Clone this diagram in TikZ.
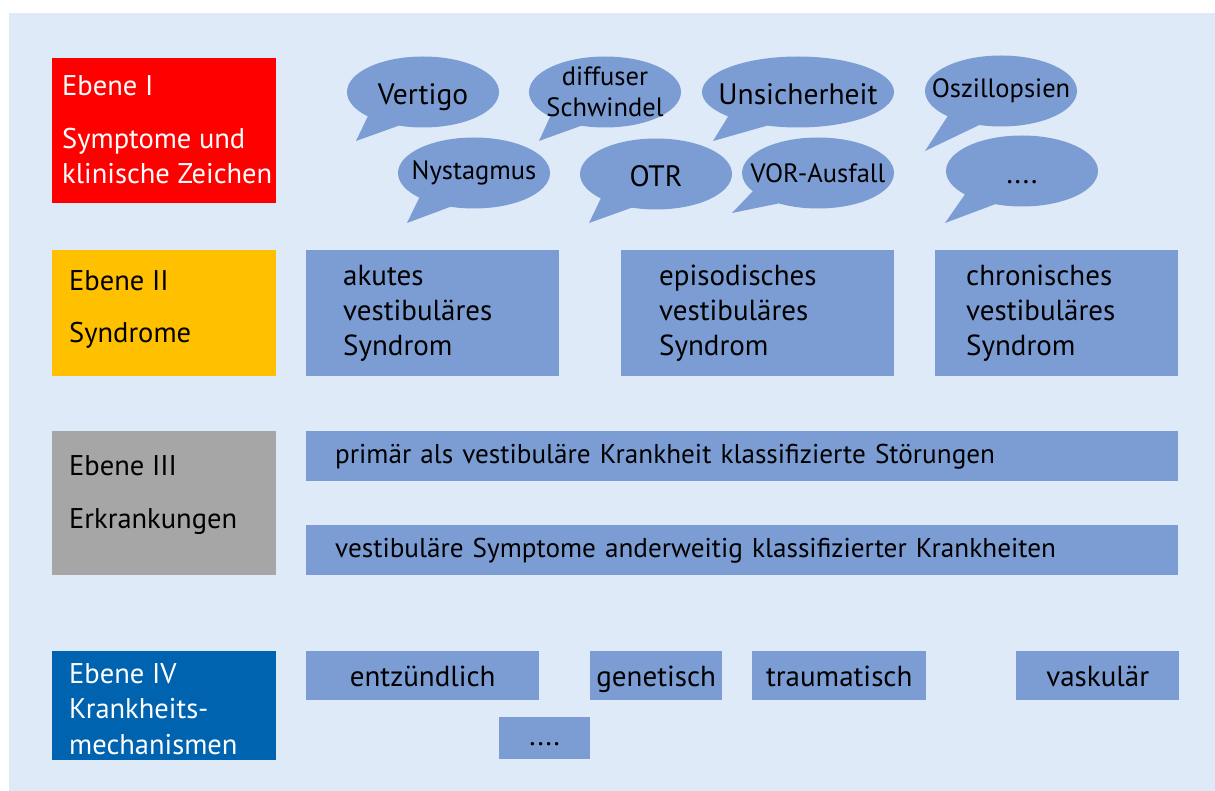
\documentclass[tikz,border=0pt]{standalone}
\usepackage{fontspec}
\setmainfont{PT Sans}
\usepackage{tikz}
\usetikzlibrary{shapes.callouts,positioning}
\definecolor{pagebg}{HTML}{DEEAF7}
\definecolor{itemblue}{HTML}{7B9DD4}
\definecolor{levelred}{HTML}{FF0000}
\definecolor{levelyellow}{HTML}{FFC000}
\definecolor{levelgray}{HTML}{A6A6A6}
\definecolor{levelblue}{HTML}{0063AF}
\tikzset{
  levelbox/.style={anchor=north west, inner sep=0pt, minimum width=224pt},
  leveltext/.style={anchor=west, align=left, inner sep=0pt, font=\fontsize{28.5}{35.5}\selectfont},
  bubble/.style={ellipse callout, fill=itemblue, callout pointer arc=28, minimum width=152pt, minimum height=71pt, inner sep=-24pt, align=center, font=\fontsize{26.5}{31}\selectfont},
  bigbubble/.style={bubble, text height=25pt, text depth=0pt, font=\fontsize{29.5}{31}\selectfont},
  itembox/.style={anchor=north west, fill=itemblue, inner sep=0pt, font=\fontsize{29}{35}\selectfont},
  synbox/.style={itembox, minimum height=126pt, align=left},
  barbox/.style={itembox, minimum height=50pt, minimum width=872pt, text width=814pt, inner xsep=29pt, align=left, font=\fontsize{27.2}{30}\selectfont},
  mechbox/.style={itembox, minimum height=49pt, text height=29pt, text depth=7pt}
}

\begin{document}
\begin{tikzpicture}[x=1pt, y=-1pt]
  \useasboundingbox (0,0) rectangle (1215,791);
  \fill[pagebg] (9,13) rectangle (1215,791);

  \node[levelbox, fill=levelred, minimum height=145pt] (ebene1) at (52,58) {};
  \node[leveltext, text=white] (ebene1titel) at (62,86) {Ebene I};
  \node[leveltext, text=white] (ebene1name) at (62,156) {Symptome und\\klinische Zeichen};
  \node[levelbox, fill=levelyellow, minimum height=126pt] (ebene2) at (52,250) {};
  \node[leveltext] (ebene2titel) at (69,281) {Ebene II};
  \node[leveltext] (ebene2name) at (69,335) {Syndrome};
  \node[levelbox, fill=levelgray, minimum height=144pt] (ebene3) at (52,431) {};
  \node[leveltext] (ebene3titel) at (69,466) {Ebene III};
  \node[leveltext] (ebene3name) at (69,522) {Erkrankungen};
  \node[levelbox, fill=levelblue, minimum height=109pt] (ebene4) at (52,651) {};
  \node[leveltext, text=white] (ebene4name) at (69,709) {Ebene IV\\Krankheits-\\mechanismen};

  \node[bigbubble, callout absolute pointer={(356,141)}] (vertigo) at (423,92) {Vertigo};
  \node[bubble, callout absolute pointer={(539,141)}] (schwindel) at (605,92) {diffuser\\Schwindel};
  \node[bigbubble, minimum width=192pt, callout absolute pointer={(713,141)}] (unsicher) at (798,92) {Unsicherheit};
  \node[bubble, callout absolute pointer={(925,151)}] (oszillo) at (1001,91) {Oszillopsien};
  \node[bubble, callout absolute pointer={(407,223)}] (nystagmus) at (474,173) {Nystagmus};
  \node[bigbubble, callout absolute pointer={(589,223)}] (otr) at (656,174) {OTR};
  \node[bubble, callout absolute pointer={(732,213)}] (vor) at (818,173) {VOR-Ausfall};
  \node[bigbubble, callout absolute pointer={(945,223)}] (weitere) at (1022,171) {....};

  \node[synbox, text width=179pt, inner xsep=37pt] (akut) at (306,250) {akutes\\vestibuläres\\Syndrom};
  \node[synbox, text width=197pt, inner xsep=38pt] (episodisch) at (621,250) {episodisches\\vestibuläres\\Syndrom};
  \node[synbox, text width=181pt, inner xsep=31pt] (chronisch) at (935,250) {chronisches\\vestibuläres\\Syndrom};

  \node[barbox] (primaer) at (306,431) {primär als vestibuläre Krankheit klassifizierte Störungen};
  \node[barbox] (anderweitig) at (306,525) {vestibuläre Symptome anderweitig klassifizierter Krankheiten};

  \node[mechbox, minimum width=233pt] (entzuendlich) at (306,651) {entzündlich};
  \node[mechbox, minimum width=132pt] (genetisch) at (590,651) {genetisch};
  \node[mechbox, minimum width=174pt] (traumatisch) at (752,651) {traumatisch};
  \node[mechbox, minimum width=163pt] (vaskulaer) at (1016,651) {vaskulär};
  \node[mechbox, minimum width=91pt, minimum height=42pt, text height=21pt] (sonstige) at (499,717) {....};
\end{tikzpicture}
\end{document}
